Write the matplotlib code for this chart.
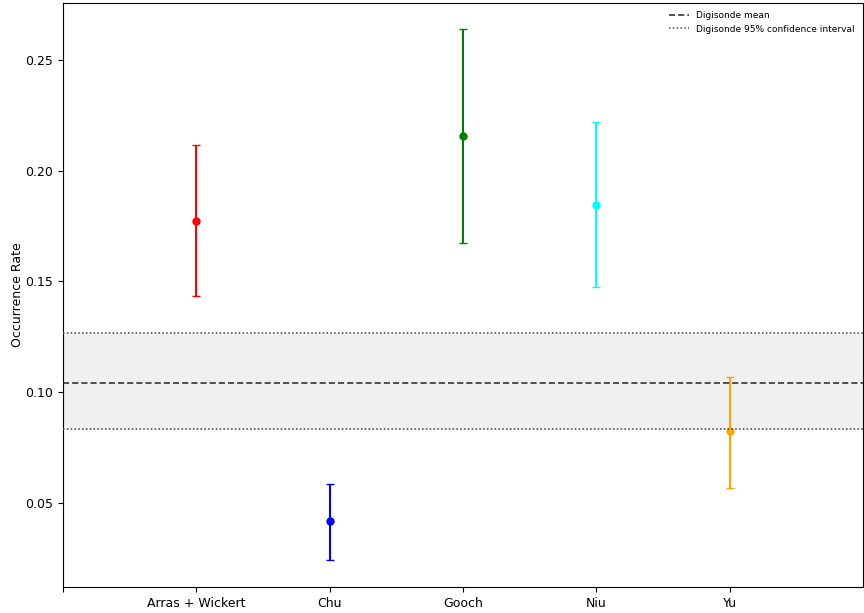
import matplotlib
matplotlib.use("Agg")
import matplotlib.pyplot as plt

categories = ["Arras + Wickert", "Chu", "Gooch", "Niu", "Yu"]
rates = [0.1773, 0.0419, 0.2157, 0.1845, 0.0825]
upper = [0.2116, 0.0586, 0.2640, 0.2220, 0.1070]
lower = [0.1435, 0.0243, 0.1674, 0.1475, 0.0568]
colors = ["red", "blue", "green", "cyan", "orange"]
digi_mean = 0.1041
digi_ci = (0.0833, 0.1266)

fig = plt.figure(figsize=(8.64, 6.13), dpi=100)
ax = fig.add_axes([0.0729, 0.0424, 0.9259, 0.9527])

for i, (r, u, l, c) in enumerate(zip(rates, upper, lower, colors)):
    ax.errorbar(i + 1, r, yerr=[[r - l], [u - r]], fmt="o", color=c,
                ecolor=c, elinewidth=1.5, capsize=3, markersize=5, zorder=2)

ax.axhspan(digi_ci[0], digi_ci[1], color="#f0f0f0", zorder=0)
ax.axhline(digi_mean, color="#222222", linestyle=(0, (4, 2)), linewidth=1.1,
           label="Digisonde mean", zorder=3)
ax.axhline(digi_ci[0], color="#444444", linestyle=(0, (1, 1.5)), linewidth=1.1,
           label="Digisonde 95% confidence interval", zorder=3)
ax.axhline(digi_ci[1], color="#444444", linestyle=(0, (1, 1.5)), linewidth=1.1, zorder=3)

ax.set_xlim(0, 6)
ax.set_ylim(0.0121, 0.2757)
ax.set_xticks(range(0, 6))
ax.set_xticklabels([""] + categories, fontsize=9)
ax.set_yticks([0.05, 0.10, 0.15, 0.20, 0.25])
ax.set_yticklabels(["0.05", "0.10", "0.15", "0.20", "0.25"], fontsize=9)
ax.set_ylabel("Occurrence Rate", fontsize=9, labelpad=1)
ax.legend(loc="upper right", frameon=False, fontsize=6.5, handlelength=2.2)

fig.savefig("out.png", dpi=100)
